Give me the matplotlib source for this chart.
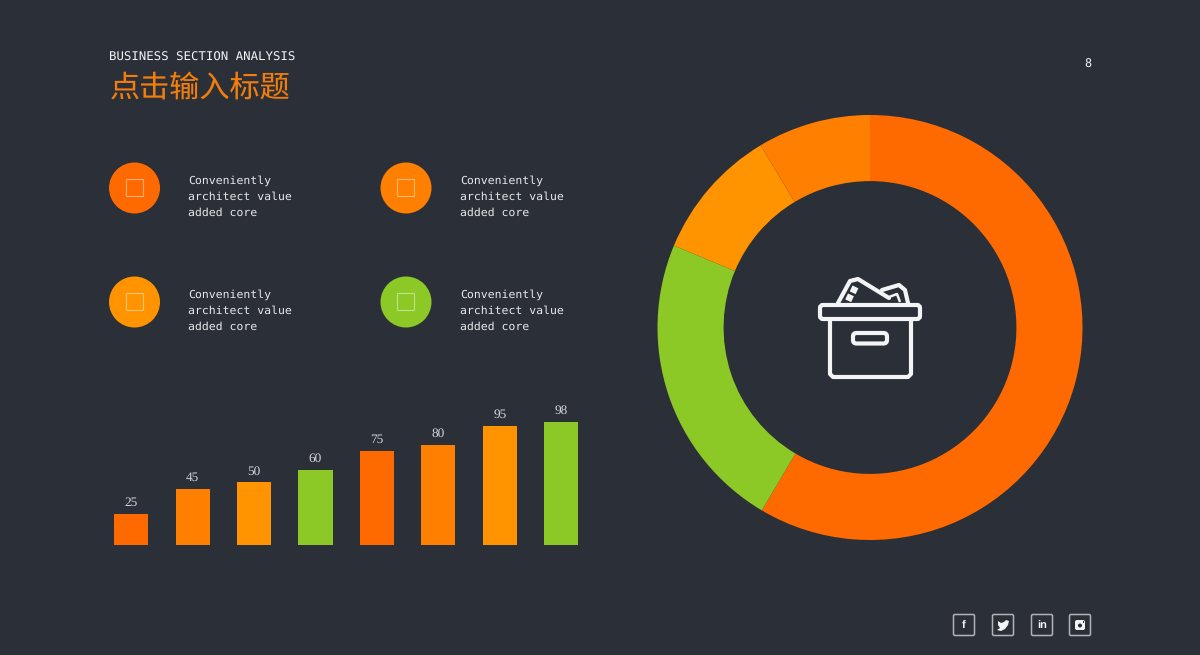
import matplotlib
matplotlib.use("Agg")
import matplotlib.pyplot as plt
from matplotlib.patches import Circle, Rectangle, FancyBboxPatch, Polygon

plt.rcParams["text.hinting"] = "none"
plt.rcParams["text.kerning_factor"] = 6

## Data
barValues = [25, 45, 50, 60, 75, 80, 95, 98]
barColors = ["#ff6a00", "#ff8000", "#ff9400", "#8cc927", "#ff6a00", "#ff8000", "#ff9400", "#8cc927"]
donutValues = [58.5, 22.8, 10.1, 8.6]
donutColors = ["#ff6a00", "#8cc927", "#ff9400", "#ff8000"]
blurbLines = ["Conveniently", "architect value", "added core"]
blurbColors = ["#ff6a00", "#ff8000", "#ff9400", "#8cc927"]
kicker = "BUSINESS SECTION ANALYSIS"
title = "点击输入标题"
pageNumber = "8"

background = "#2b2f38"
white = "#f2f4f6"
width, height = 1200, 655


def axesFromPixels(fig, left, top, right, bottom):
    return fig.add_axes([left/width, 1 - bottom/height, (right - left)/width, (bottom - top)/height])


fig = plt.figure(figsize=(width/100, height/100), dpi=100, facecolor=background)

## Donut
axDonut = axesFromPixels(fig, 657.5, 115, 1082.5, 540)
axDonut.pie(donutValues, colors=donutColors, startangle=90, counterclock=False, radius=1,
            wedgeprops=dict(width=0.311, linewidth=0))
axDonut.set_xlim(-1, 1)
axDonut.set_ylim(-1, 1)
axDonut.patch.set_visible(False)

## Bars
axBars = axesFromPixels(fig, 100.5, 400, 591.9, 545)
bars = axBars.bar(range(len(barValues)), barValues, width=0.554, color=barColors, linewidth=0)
axBars.set_xlim(-0.5, 7.5)
axBars.set_ylim(0, 145/1.255)
for rect, value in zip(bars, barValues):
    axBars.annotate(str(value), (rect.get_x() + rect.get_width()/2, value), xytext=(0, 3.6), textcoords="offset points",
                    ha="center", va="bottom", color="#d4d6d9", fontsize=9.5, family="Liberation Serif")
axBars.axis("off")

## Everything else is drawn in pixel coordinates
ax = fig.add_axes([0, 0, 1, 1])
ax.set_xlim(0, width)
ax.set_ylim(height, 0)
ax.axis("off")

ax.text(109, 57, kicker, color=white, fontsize=8.95, family="DejaVu Sans Mono", va="center", ha="left")
ax.text(110, 88.5, title, color="#f07d0c", fontsize=21.7, family=["Noto Sans CJK SC", "DejaVu Sans"], va="center", ha="left")
ax.text(1088, 64, pageNumber, color=white, fontsize=8.5, family="DejaVu Sans Mono", va="center", ha="center")

## Four blurbs
blurbCenters = [(134.5, 188), (406, 188), (134.5, 302), (406, 302)]
for (x, y), color in zip(blurbCenters, blurbColors):
    ax.add_patch(Circle((x, y), 25.5, facecolor=color, linewidth=0))
    ax.add_patch(Rectangle((x - 9, y - 9), 17, 17, fill=False, edgecolor=(1, 1, 1, 0.45), linewidth=0.8))
    for indexLine, line in enumerate(blurbLines):
        ax.text(x + 54, y - 7.5 + 16*indexLine, line, color="#e6e8ea", fontsize=8.25,
                family="DejaVu Sans Mono", va="center", ha="left")

## Box icon
lw = 3
ax.add_patch(Polygon([(838, 303), (850, 281), (858, 279), (889, 298)], closed=False, fill=False, edgecolor=white, linewidth=lw, joinstyle="round", capstyle="round"))
ax.add_patch(Polygon([(882, 290), (899, 285), (905, 290), (908, 303)], closed=False, fill=False, edgecolor=white, linewidth=lw, joinstyle="round", capstyle="round"))
ax.add_patch(Polygon([(889, 297), (897, 294), (900, 302)], closed=False, fill=False, edgecolor=white, linewidth=lw*0.6, joinstyle="round"))
ax.add_patch(Rectangle((852.5, 285.5), 6.5, 6.5, angle=25, facecolor=white, linewidth=0))
ax.add_patch(Rectangle((848, 293.5), 6.5, 6.5, angle=25, facecolor=white, linewidth=0))
ax.add_patch(FancyBboxPatch((820, 305), 100, 14, boxstyle="round,pad=0,rounding_size=3", fill=True, facecolor=background, edgecolor=white, linewidth=lw))
ax.add_patch(Polygon([(830, 319), (830, 374), (833, 377), (908, 377), (911, 374), (911, 319)], closed=False, fill=False, edgecolor=white, linewidth=lw, joinstyle="round"))
ax.add_patch(FancyBboxPatch((853, 333), 34, 10.5, boxstyle="round,pad=0,rounding_size=3.5", fill=False, edgecolor=white, linewidth=lw))

## Social icons
socialCenters = [964, 1003, 1042, 1080]
for x in socialCenters:
    ax.add_patch(FancyBboxPatch((x - 10.5, 614.5), 21, 21, boxstyle="round,pad=0,rounding_size=1.5", fill=False, edgecolor="#b0b2b6", linewidth=1.1))
ax.text(964, 625.5, "f", color=white, fontsize=8, fontweight="bold", family="Liberation Sans", ha="center", va="center")
ax.add_patch(Polygon([(998, 621), (1001, 623), (1004, 622), (1006, 620), (1009, 621), (1008, 625), (1005, 629), (1001, 631), (997, 630), (1000, 628), (998, 625)],
                     facecolor=white, linewidth=0))
ax.text(1042, 625.5, "in", color=white, fontsize=8, fontweight="bold", family="Liberation Sans", ha="center", va="center")
ax.add_patch(FancyBboxPatch((1075, 620), 10, 10, boxstyle="round,pad=0,rounding_size=2", facecolor=white, linewidth=0))
ax.add_patch(Circle((1080, 625.5), 2.6, facecolor=background, edgecolor=white, linewidth=0.8))
ax.add_patch(Rectangle((1082.5, 621), 1.5, 1.5, facecolor=background, linewidth=0))

fig.savefig("out.png", dpi=100, facecolor=background)
